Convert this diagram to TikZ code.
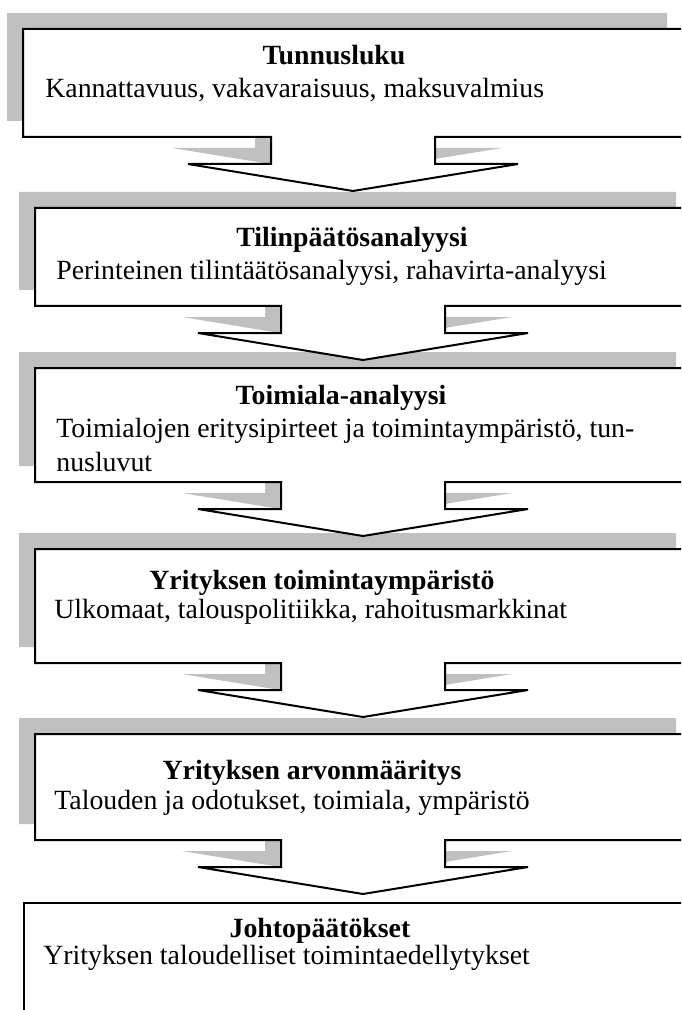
\documentclass[tikz,border=0pt]{standalone}
\usepackage{fontspec}
\setmainfont{Liberation Serif}
\usepackage{tikz}

\definecolor{shadowgray}{HTML}{C0C0C0}
\tikzset{
  boxtitle/.style={anchor=base, inner sep=0pt, font=\fontsize{13.9}{16}\selectfont\bfseries},
  boxtext/.style={anchor=base west, inner sep=0pt, font=\fontsize{13.9}{16}\selectfont},
  frame/.style={draw=black, line width=1pt, fill=white},
  shade/.style={fill=shadowgray}
}

\begin{document}
\begin{tikzpicture}[x=0.5pt,y=-0.5pt]
\path[use as bounding box] (0,0) rectangle (681,1010);
\clip (0,0) rectangle (681,1010);

% Shadows
\foreach \l/\t/\b/\r/\c in {23/29/137/683/353, 35/208/306/692/363, 35/368/482/692/363, 35/549/663/692/363, 35/734/840/692/363} {
    \fill[shade, shift={(-16,-16)}] (\l,\t) -- (\r,\t) -- (\r,\b) -- (\c+82,\b) -- (\c+82,\b+27) -- (\c+165,\b+27)
        -- (\c,\b+54) -- (\c-165,\b+27) -- (\c-82,\b+27) -- (\c-82,\b) -- (\l,\b) -- cycle;
}

% Boxes with arrows
\foreach \l/\t/\b/\r/\c in {23/29/137/683/353, 35/208/306/692/363, 35/368/482/692/363, 35/549/663/692/363, 35/734/840/692/363} {
    \draw[frame] (\l,\t) -- (\r,\t) -- (\r,\b) -- (\c+82,\b) -- (\c+82,\b+27) -- (\c+165,\b+27)
        -- (\c,\b+54) -- (\c-165,\b+27) -- (\c-82,\b+27) -- (\c-82,\b) -- (\l,\b) -- cycle;
}

% Last box
\draw[frame] (24,903) rectangle (700,1030);

% Texts
\node[boxtitle] (tunnus) at (334,65) {Tunnusluku};
\node[boxtext] (tunnustxt) at (45,98) {Kannattavuus, vakavaraisuus, maksuvalmius};

\node[boxtitle] (tilin) at (352,247) {Tilinpäätösanalyysi};
\node[boxtext] (tilintxt) at (56,279) {Perinteinen tilintäätösanalyysi, rahavirta-analyysi};

\node[boxtitle] (toimiala) at (341,404) {Toimiala-analyysi};
\node[boxtext] (toimialatxt) at (56,437) {Toimialojen eritysipirteet ja toimintaympäristö, tun-};
\node[boxtext] (toimialatxtb) at (56,471) {nusluvut};

\node[boxtitle] (ymparisto) at (322,589) {Yrityksen toimintaympäristö};
\node[boxtext] (ymparistotxt) at (54,618) {Ulkomaat, talouspolitiikka, rahoitusmarkkinat};

\node[boxtitle] (arvo) at (312,779) {Yrityksen arvonmääritys};
\node[boxtext] (arvotxt) at (54,809) {Talouden ja odotukset, toimiala, ympäristö};

\node[boxtitle] (johto) at (320,937) {Johtopäätökset};
\node[boxtext] (johtotxt) at (43,964) {Yrityksen taloudelliset toimintaedellytykset};

\end{tikzpicture}
\end{document}
